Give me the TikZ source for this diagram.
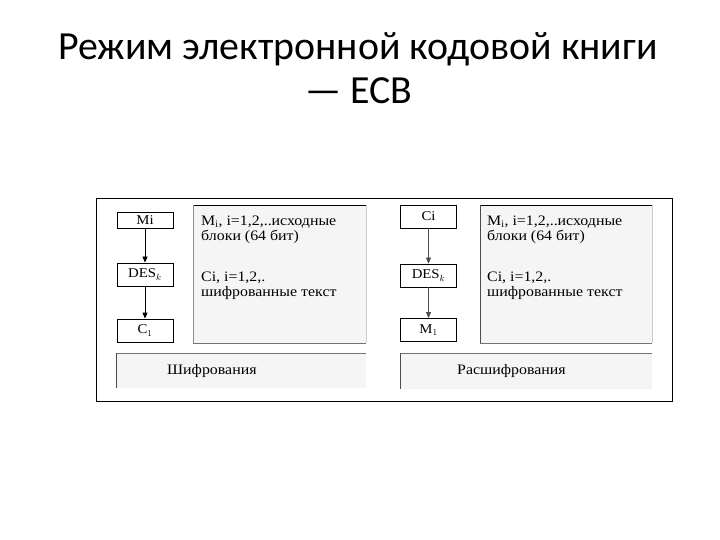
\documentclass[tikz,border=0pt]{standalone}
\usepackage{fontspec}
\setmainfont{Liberation Serif}
\newfontfamily\diagfont[FakeStretch=1.1]{Liberation Serif}
\newfontfamily\titlefont{Carlito}
\usetikzlibrary{arrows.meta}
\begin{document}
\begin{tikzpicture}[x=1bp,y=-1bp,
  blk/.style={draw=black, line width=0.8bp, fill=white, minimum width=56bp, inner sep=0pt, font=\diagfont\fontsize{13.5}{15}\selectfont},
  arr/.style={-{Triangle[length=6bp,width=5bp]}, line width=0.8bp},
  ptext/.style={anchor=west, inner sep=0pt, font=\diagfont\fontsize{14.5}{16}\selectfont},
  panel/.style={fill=black!4, draw=none},
  ttl/.style={font=\titlefont\fontsize{40}{46}\selectfont, inner sep=0pt}]
\useasboundingbox (0,0) rectangle (720,540);
\fill[white] (0,0) rectangle (720,540);
% title
\node[ttl, anchor=base] (t1) at (358,60) {Режим электронной кодовой книги};
\node[ttl, anchor=base] (t2) at (359,104) {— ECB};
% outer frame
\draw[line width=0.9bp] (96,198) rectangle (672,401);
% left panel
\fill[panel] (193,205) rectangle (366,343);
\draw[line width=0.8bp] (193,205) -- (366,205);
\draw[black!45, line width=0.5bp] (193,205) -- (193,343);
\draw[black!20, line width=0.5bp] (366,205) -- (366,343);
\draw[black!55, line width=0.7bp] (193,343) -- (366,343);
% left bottom bar
\fill[panel] (116,353) rectangle (366,388);
\draw[black!55, line width=0.7bp] (116,353) -- (366,353);
\draw[black!70, line width=0.7bp] (116,353) -- (116,388);
% right panel
\fill[panel] (480,205) rectangle (652,343);
\draw[line width=0.8bp] (480,205) -- (652,205);
\draw[black!70, line width=0.6bp] (480,205) -- (480,343);
\draw[black!20, line width=0.5bp] (652,205) -- (652,343);
\draw[black!55, line width=0.7bp] (480,343) -- (652,343);
% right bottom bar
\fill[panel] (400,353) rectangle (652,389);
\draw[black!55, line width=0.7bp] (400,353) -- (652,353);
\draw[black!70, line width=0.7bp] (400,353) -- (400,389);
% left boxes
\node[blk, minimum height=16bp] (lm) at (145,220) {Mi};
\node[blk, minimum height=23bp] (ld) at (145,274.5) {DES$_k$};
\node[blk, minimum height=23bp] (lc) at (145,330.5) {C$_1$};
\draw[arr] (lm) -- (ld);
\draw[arr] (ld) -- (lc);
% right boxes
\node[blk, minimum height=23bp] (rc) at (428.5,216.5) {Ci};
\node[blk, minimum height=23bp] (rd) at (428.5,275.5) {DES$_k$};
\node[blk, minimum height=23bp] (rm) at (428.5,330) {M$_1$};
\draw[arr, black!70] (rc) -- (rd);
\draw[arr, black!70] (rd) -- (rm);
% left panel text
\node[ptext] (l1) at (201,222) {M$_\mathrm{i}$, i=1,2,..исходные};
\node[ptext] (l2) at (201,237) {блоки (64 бит)};
\node[ptext] (l3) at (201,278) {Ci, i=1,2,.};
\node[ptext] (l4) at (201,293) {шифрованные текст};
% right panel text
\node[ptext] (r1) at (487,222) {M$_\mathrm{i}$, i=1,2,..исходные};
\node[ptext] (r2) at (487,237) {блоки (64 бит)};
\node[ptext] (r3) at (487,278) {Ci, i=1,2,.};
\node[ptext] (r4) at (487,293) {шифрованные текст};
% bar labels
\node[ptext] (lb) at (167,371) {Шифрования};
\node[ptext] (rb) at (457,371) {Расшифрования};
\end{tikzpicture}
\end{document}
